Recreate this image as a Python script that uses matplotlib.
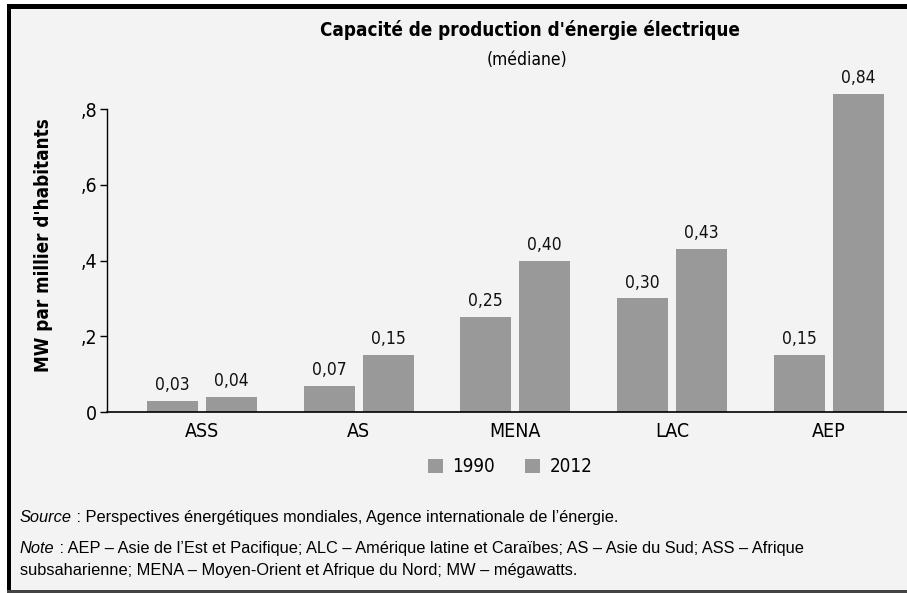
import numpy as np
import matplotlib.pyplot as plt
from matplotlib.patches import Rectangle

# donnees
regions = ['ASS', 'AS', 'MENA', 'LAC', 'AEP']
val_1990 = [0.03, 0.07, 0.25, 0.30, 0.15]
val_2012 = [0.04, 0.15, 0.40, 0.43, 0.84]
series = ['1990', '2012']
yticks = [0, 0.2, 0.4, 0.6, 0.8]
ytick_labels = ['0', ',2', ',4', ',6', ',8']

FONT = ['Liberation Sans Narrow', 'DejaVu Sans']
NOTE_FONT = ['Liberation Sans', 'DejaVu Sans']
plt.rcParams['font.family'] = FONT
plt.rcParams['font.stretch'] = 'condensed'

bg = '#f3f3f3'
bar_col = '#999999'

W, H = 907, 593
fig = plt.figure(figsize=(W / 100, H / 100), dpi=100, facecolor='white')

# cadre: fond gris clair, bord noir en haut et a gauche
fig.patches.append(Rectangle((7 / W, 0), 1 - 7 / W, 1 - 4 / H, transform=fig.transFigure,
                             facecolor=bg, edgecolor='none', zorder=-3))
fig.patches.append(Rectangle((7 / W, 1 - 9 / H), 1 - 7 / W, 5 / H, transform=fig.transFigure,
                             facecolor='black', edgecolor='none', zorder=-2))
fig.patches.append(Rectangle((7 / W, 0), 4 / W, 1 - 4 / H, transform=fig.transFigure,
                             facecolor='black', edgecolor='none', zorder=-2))
fig.patches.append(Rectangle((7 / W, 0), 1 - 7 / W, 3 / H, transform=fig.transFigure,
                             facecolor='#444444', edgecolor='none', zorder=-2))

ax = fig.add_axes([107 / W, (H - 412) / H, 1 - 107 / W, (412 - 79) / H])
ax.set_facecolor('none')

x = np.arange(len(regions))
w = 0.325
off = 0.188
b1 = ax.bar(x - off, val_1990, w, color=bar_col, label=series[0])
b2 = ax.bar(x + off, val_2012, w, color=bar_col, label=series[1])

for bars, vals in ((b1, val_1990), (b2, val_2012)):
    for rect, v in zip(bars, vals):
        ax.annotate(f'{v:.2f}'.replace('.', ','),
                    (rect.get_x() + rect.get_width() / 2, v),
                    xytext=(0, 5), textcoords='offset points',
                    ha='center', va='bottom', fontsize=12.5, color='#111111')

ax.set_xlim(-0.606, 4.5)
ax.set_ylim(0, 0.88)
ax.set_xticks(x)
ax.set_xticklabels(regions, fontsize=14)
ax.set_yticks(yticks)
ax.set_yticklabels(ytick_labels, fontsize=14)
ax.tick_params(axis='x', length=0, pad=7)
ax.tick_params(axis='y', length=5, width=1, pad=2)
for s in ('top', 'right'):
    ax.spines[s].set_visible(False)
ax.spines['left'].set_bounds(0, 0.8)
ax.spines['left'].set_linewidth(1)
ax.spines['bottom'].set_linewidth(1.2)

ax.set_ylabel("MW par millier d'habitants", fontsize=13.5, fontweight='bold', labelpad=20)

fig.text(530 / W, 1 - 30 / H, "Capacité de production d'énergie électrique",
         ha='center', va='center', fontsize=13.5, fontweight='bold')
fig.text(527 / W, 1 - 60 / H, '(médiane)', ha='center', va='center', fontsize=12.5)

ax.legend(loc='center', bbox_to_anchor=(510 / W, 1 - 467 / H), bbox_transform=fig.transFigure,
          ncol=2, frameon=False, fontsize=13.5, handlelength=0.8, handleheight=0.8,
          handletextpad=0.5, columnspacing=1.6)


# source et note: mot en italique puis suite du texte sur la meme ligne de base
def label_line(y_px, head, rest):
    t = fig.text(20 / W, 1 - y_px / H, head, style='italic', fontsize=11.8,
                 va='baseline', family=NOTE_FONT, stretch='normal')
    fig.canvas.draw()
    x1 = t.get_window_extent().x1
    fig.text(x1 / W, 1 - y_px / H, rest, fontsize=11.8, va='baseline',
             family=NOTE_FONT, stretch='normal')


label_line(522, 'Source', " : Perspectives énergétiques mondiales, Agence internationale de l\u2019énergie.")
label_line(553, 'Note', " : AEP \u2013 Asie de l\u2019Est et Pacifique; ALC \u2013 Amérique latine et Caraïbes; "
           "AS \u2013 Asie du Sud; ASS \u2013 Afrique")
fig.text(20 / W, 1 - 575 / H,
         "subsaharienne; MENA \u2013 Moyen-Orient et Afrique du Nord; MW \u2013 mégawatts.",
         fontsize=11.8, va='baseline', family=NOTE_FONT, stretch='normal')

fig.savefig('out.png', dpi=100, facecolor='white')
